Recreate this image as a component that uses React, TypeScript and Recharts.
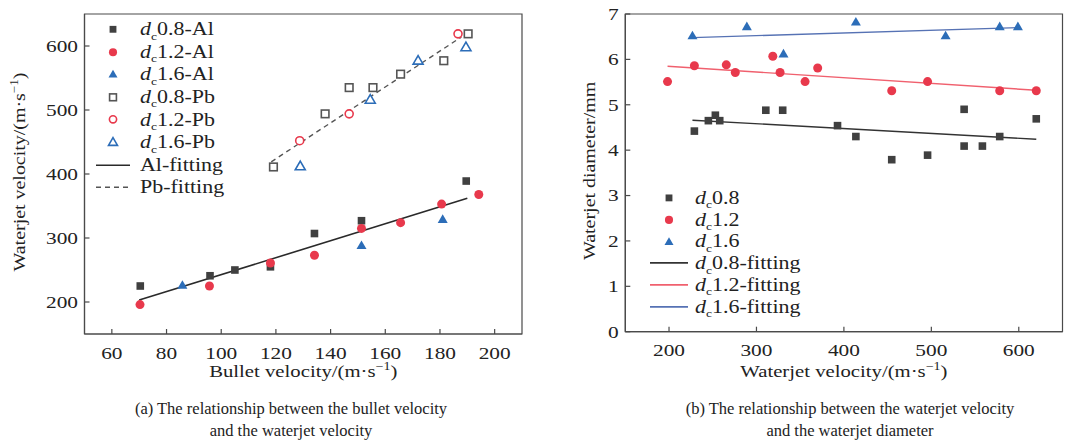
import React from 'react';
import { ScatterChart, Scatter, XAxis, YAxis, ReferenceArea, Legend, Label } from 'recharts';

// ---------- data ----------
// (a) bullet velocity (m/s) vs waterjet velocity (m/s)
const aXTicks = [60, 80, 100, 120, 140, 160, 180, 200];
const aYTicks = [200, 300, 400, 500, 600];
const aXDomain = [50, 210];
const aYDomain = [150, 650];

const d08Al = [[70.4, 225], [95.9, 241], [105, 250], [118, 255], [134.1, 307], [151.3, 327], [189.6, 389]];
const d12Al = [[70.3, 196], [95.7, 225], [118, 261], [134.1, 273], [151.3, 315], [165.6, 324], [180.6, 353], [194.2, 368]];
const d16Al = [[85.8, 226], [151.3, 288], [181, 329]];
const d08Pb = [[119.1, 411], [138, 494], [146.8, 535], [155.5, 535], [165.6, 556], [181.4, 577], [190.3, 619]];
const d12Pb = [[128.7, 452], [146.8, 494], [186.6, 619]];
const d16Pb = [[128.9, 412], [154.5, 516], [172, 577], [189.5, 598]];
const alFit = [[70, 203], [190, 362]];
const pbFit = [[118.3, 419], [187.8, 614]];

// (b) waterjet velocity (m/s) vs waterjet diameter (mm)
const bXTicks = [200, 300, 400, 500, 600];
const bYTicks = [0, 1, 2, 3, 4, 5, 6, 7];
const bXDomain = [150, 650];
const bYDomain = [0, 7];

const b08 = [[229, 4.42], [245, 4.65], [253, 4.77], [258, 4.65], [310.7, 4.88], [330, 4.88], [392.7, 4.54], [413.7, 4.3], [454.7, 3.79], [495.7, 3.89], [537.5, 4.9], [537.5, 4.09], [558.4, 4.09], [578.2, 4.3], [620, 4.69]];
const b12 = [[198.3, 5.51], [229, 5.86], [265.5, 5.88], [275.8, 5.71], [318.7, 6.07], [327, 5.71], [355.6, 5.51], [370, 5.81], [454.7, 5.31], [495.7, 5.51], [578.2, 5.31], [620, 5.31]];
const b16 = [[226.8, 6.52], [289, 6.72], [330.9, 6.12], [413.7, 6.82], [516.3, 6.52], [578.2, 6.72], [599, 6.72]];
const b08Fit = [[226.8, 4.66], [620, 4.24]];
const b12Fit = [[198.3, 5.85], [620, 5.32]];
const b16Fit = [[226.8, 6.48], [599.8, 6.7]];

const aLegendLabels = ['0.8-Al', '1.2-Al', '1.6-Al', '0.8-Pb', '1.2-Pb', '1.6-Pb', 'Al-fitting', 'Pb-fitting'];
const bLegendLabels = ['0.8', '1.2', '1.6', '0.8-fitting', '1.2-fitting', '1.6-fitting'];

const captionA = ['(a) The relationship between the bullet velocity', 'and the waterjet velocity'];
const captionB = ['(b) The relationship between the waterjet velocity', 'and the waterjet diameter'];

// ---------- styles ----------
const FONT = '"Liberation Serif", "Times New Roman", serif';
const STRETCH = 1.22;
const Y_STRETCH = 1.14;
const GRAY = '#404040';
const RED = '#e8394c';
const BLUE = '#2c6db8';
const AXIS = '#4a4a4a';

type Pt = { x: number; y: number };
const toPts = (a: number[][]): Pt[] => a.map(([x, y]) => ({ x, y }));

type Kind = 'square' | 'circle' | 'triangle' | 'line' | 'dash';

const markerSvg = (kind: Kind, color: string, filled: boolean, cx: number, cy: number, k = 1) => {
  const fill = filled ? color : '#ffffff';
  const sw = filled ? 0 : 1.6;
  if (kind === 'square') {
    const s = 7.6 * k;
    return <rect x={cx - s / 2} y={cy - s / 2} width={s} height={s} fill={fill} stroke={color} strokeWidth={sw} />;
  }
  if (kind === 'circle') {
    const r = (filled ? 4.5 : 4) * k;
    return <circle cx={cx} cy={cy} r={r} fill={fill} stroke={color} strokeWidth={sw} />;
  }
  const h = 8.6 * k;
  const w = 10 * k;
  const pts = `${cx},${cy - h * 0.6} ${cx + w / 2},${cy + h * 0.4} ${cx - w / 2},${cy + h * 0.4}`;
  return <polygon points={pts} fill={fill} stroke={color} strokeWidth={filled ? 0 : 1.6} strokeLinejoin="miter" />;
};

const makeShape = (kind: Kind, color: string, filled: boolean) => (props: any) => {
  const { cx, cy } = props;
  if (cx == null || cy == null) return <g />;
  return markerSvg(kind, color, filled, cx, cy);
};
const NoShape = () => <g />;

// ticks drawn inward, labels outside
const TICK_MARGIN = 6;
const YTick = (props: any) => {
  const { x, y, payload } = props;
  const ax = x + TICK_MARGIN;
  return (
    <g>
      <line x1={ax} x2={ax + 5} y1={y} y2={y} stroke={AXIS} strokeWidth={1.2} />
      <text transform={`translate(${x - 0.5},${y}) scale(${STRETCH},1)`} textAnchor="end" dy="0.34em" fontSize={17.5} fontFamily={FONT} fill="#222">
        {payload.value}
      </text>
    </g>
  );
};
const XTick = (props: any) => {
  const { x, y, payload } = props;
  const ay = y - TICK_MARGIN;
  return (
    <g>
      <line x1={x} x2={x} y1={ay} y2={ay - 5} stroke={AXIS} strokeWidth={1.2} />
      <text transform={`translate(${x},${ay + 24.5}) scale(${STRETCH},1)`} textAnchor="middle" fontSize={17.5} fontFamily={FONT} fill="#222">
        {payload.value}
      </text>
    </g>
  );
};

const UnitText = ({ main }: { main: string }) => (
  <>
    <tspan>{main}/(m·s</tspan>
    <tspan dy={-7} fontSize={11.5}>−1</tspan>
    <tspan dy={7}>)</tspan>
  </>
);

const xLabel = (text: React.ReactNode, below: number) => (p: any) => {
  const vb = p.viewBox || {};
  const cx = vb.x + vb.width / 2;
  const y = vb.y + below;
  return (
    <text transform={`translate(${cx},${y}) scale(${STRETCH},1)`} textAnchor="middle" fontSize={17} fontFamily={FONT} fill="#222">
      {text}
    </text>
  );
};
const yLabel = (text: React.ReactNode, cxAbs: number) => (p: any) => {
  const vb = p.viewBox || {};
  const cy = vb.y + vb.height / 2 - 2;
  return (
    <text transform={`translate(${cxAbs},${cy}) rotate(-90) scale(${Y_STRETCH},1)`} textAnchor="middle" dy="0.34em" fontSize={17.5} fontFamily={FONT} fill="#222">
      {text}
    </text>
  );
};

type LegItem = { label: string; kind: Kind; color: string; filled: boolean };

const legendContent = (items: LegItem[], rowH: number, markW: number, gap: number) => () => (
  <div style={{ fontFamily: FONT, fontSize: 18, color: '#222' }}>
    {items.map((it) => (
      <div key={it.label} style={{ height: rowH, display: 'flex', alignItems: 'center', whiteSpace: 'nowrap' }}>
        <svg width={markW} height={rowH} style={{ display: 'block', flex: 'none' }}>
          {it.kind === 'line' || it.kind === 'dash' ? (
            <line x1={0} x2={markW} y1={rowH / 2} y2={rowH / 2} stroke={it.color} strokeWidth={1.6} strokeDasharray={it.kind === 'dash' ? '5 4' : undefined} />
          ) : (
            markerSvg(it.kind, it.color, it.filled, markW / 2, rowH / 2, 0.9)
          )}
        </svg>
        <span style={{ marginLeft: gap, display: 'inline-block', transform: `scaleX(${STRETCH})`, transformOrigin: 'left center', lineHeight: 1 }}>
          {it.label.startsWith('Al') || it.label.startsWith('Pb') ? (
            it.label
          ) : (
            <>
              <i>d</i>
              <span style={{ fontSize: '0.62em', position: 'relative', top: '0.38em' }}>c</span>
              {it.label}
            </>
          )}
        </span>
      </div>
    ))}
  </div>
);

const aLegendItems: LegItem[] = [
  { label: aLegendLabels[0], kind: 'square', color: GRAY, filled: true },
  { label: aLegendLabels[1], kind: 'circle', color: RED, filled: true },
  { label: aLegendLabels[2], kind: 'triangle', color: BLUE, filled: true },
  { label: aLegendLabels[3], kind: 'square', color: '#555', filled: false },
  { label: aLegendLabels[4], kind: 'circle', color: RED, filled: false },
  { label: aLegendLabels[5], kind: 'triangle', color: BLUE, filled: false },
  { label: aLegendLabels[6], kind: 'line', color: '#2a2a2a', filled: true },
  { label: aLegendLabels[7], kind: 'dash', color: '#555', filled: true },
];
const bLegendItems: LegItem[] = [
  { label: bLegendLabels[0], kind: 'square', color: GRAY, filled: true },
  { label: bLegendLabels[1], kind: 'circle', color: RED, filled: true },
  { label: bLegendLabels[2], kind: 'triangle', color: BLUE, filled: true },
  { label: bLegendLabels[3], kind: 'line', color: '#333', filled: true },
  { label: bLegendLabels[4], kind: 'line', color: '#f0606e', filled: true },
  { label: bLegendLabels[5], kind: 'line', color: '#5672b4', filled: true },
];

const captionStyle = (cx: number): React.CSSProperties => ({
  position: 'absolute',
  left: cx - 260,
  width: 520,
  top: 398,
  textAlign: 'center',
  fontFamily: FONT,
  fontSize: 16.5,
  lineHeight: '22px',
  color: '#222',
});

export default function App() {
  return (
    <div style={{ position: 'absolute', left: 0, top: 0, width: 1066, height: 444, background: '#fff', overflow: 'hidden' }}>
      {/* chart (a) */}
      <div style={{ position: 'absolute', left: 0, top: 0 }}>
        <ScatterChart width={530} height={400} margin={{ top: 14, right: 8, left: 0, bottom: 0 }}>
          <XAxis type="number" dataKey="x" domain={aXDomain} ticks={aXTicks} allowDataOverflow height={66}
            tickSize={0} tickMargin={TICK_MARGIN} tickLine={false} tick={<XTick />} axisLine={{ stroke: AXIS, strokeWidth: 1.2 }} interval={0}>
            <Label content={xLabel(<UnitText main="Bullet velocity" />, 43)} />
          </XAxis>
          <YAxis type="number" dataKey="y" domain={aYDomain} ticks={aYTicks} allowDataOverflow width={84.5}
            tickSize={0} tickMargin={TICK_MARGIN} tickLine={false} tick={<YTick />} axisLine={{ stroke: AXIS, strokeWidth: 1.2 }} interval={0}>
            <Label content={yLabel(<UnitText main="Waterjet velocity" />, 19)} />
          </YAxis>
          <ReferenceArea x1={aXDomain[0]} x2={aXDomain[1]} y1={aYDomain[0]} y2={aYDomain[1]} fill="none" stroke={AXIS} strokeWidth={1.2} fillOpacity={0} />
          <Scatter data={toPts(alFit)} shape={NoShape} line={{ stroke: '#2a2a2a', strokeWidth: 1.6 }} lineType="joint" isAnimationActive={false} legendType="none" />
          <Scatter data={toPts(pbFit)} shape={NoShape} line={{ stroke: '#555', strokeWidth: 1.4, strokeDasharray: '5 4' }} lineType="joint" isAnimationActive={false} legendType="none" />
          <Scatter data={toPts(d08Al)} shape={makeShape('square', GRAY, true)} isAnimationActive={false} />
          <Scatter data={toPts(d12Al)} shape={makeShape('circle', RED, true)} isAnimationActive={false} />
          <Scatter data={toPts(d16Al)} shape={makeShape('triangle', BLUE, true)} isAnimationActive={false} />
          <Scatter data={toPts(d08Pb)} shape={makeShape('square', '#555', false)} isAnimationActive={false} />
          <Scatter data={toPts(d12Pb)} shape={makeShape('circle', RED, false)} isAnimationActive={false} />
          <Scatter data={toPts(d16Pb)} shape={makeShape('triangle', BLUE, false)} isAnimationActive={false} />
          <Legend layout="vertical" verticalAlign="middle" align="center" content={legendContent(aLegendItems, 22.6, 34, 10)}
            wrapperStyle={{ left: 96, top: 18, width: 'auto', height: 'auto' }} />
        </ScatterChart>
      </div>

      {/* chart (b) */}
      <div style={{ position: 'absolute', left: 540, top: 0 }}>
        <ScatterChart width={526} height={400} margin={{ top: 14, right: 3.5, left: 0, bottom: 0 }}>
          <XAxis type="number" dataKey="x" domain={bXDomain} ticks={bXTicks} allowDataOverflow height={68.3}
            tickSize={0} tickMargin={TICK_MARGIN} tickLine={false} tick={<XTick />} axisLine={{ stroke: AXIS, strokeWidth: 1.2 }} interval={0}>
            <Label content={xLabel(<UnitText main="Waterjet velocity" />, 45)} />
          </XAxis>
          <YAxis type="number" dataKey="y" domain={bYDomain} ticks={bYTicks} allowDataOverflow width={85.3}
            tickSize={0} tickMargin={TICK_MARGIN} tickLine={false} tick={<YTick />} axisLine={{ stroke: AXIS, strokeWidth: 1.2 }} interval={0}>
            <Label content={yLabel('Waterjet diameter/mm', 49)} />
          </YAxis>
          <ReferenceArea x1={bXDomain[0]} x2={bXDomain[1]} y1={bYDomain[0]} y2={bYDomain[1]} fill="none" stroke={AXIS} strokeWidth={1.2} fillOpacity={0} />
          <Scatter data={toPts(b08Fit)} shape={NoShape} line={{ stroke: '#333', strokeWidth: 1.4 }} lineType="joint" isAnimationActive={false} legendType="none" />
          <Scatter data={toPts(b12Fit)} shape={NoShape} line={{ stroke: '#f0606e', strokeWidth: 1.4 }} lineType="joint" isAnimationActive={false} legendType="none" />
          <Scatter data={toPts(b16Fit)} shape={NoShape} line={{ stroke: '#5672b4', strokeWidth: 1.4 }} lineType="joint" isAnimationActive={false} legendType="none" />
          <Scatter data={toPts(b08)} shape={makeShape('square', GRAY, true)} isAnimationActive={false} />
          <Scatter data={toPts(b12)} shape={makeShape('circle', RED, true)} isAnimationActive={false} />
          <Scatter data={toPts(b16)} shape={makeShape('triangle', BLUE, true)} isAnimationActive={false} />
          <Legend layout="vertical" verticalAlign="middle" align="center" content={legendContent(bLegendItems, 21.8, 38, 7)}
            wrapperStyle={{ left: 110, top: 187, width: 'auto', height: 'auto' }} />
        </ScatterChart>
      </div>

      <div style={captionStyle(291)}>
        {captionA[0]}<br />{captionA[1]}
      </div>
      <div style={captionStyle(850)}>
        {captionB[0]}<br />{captionB[1]}
      </div>
    </div>
  );
}
